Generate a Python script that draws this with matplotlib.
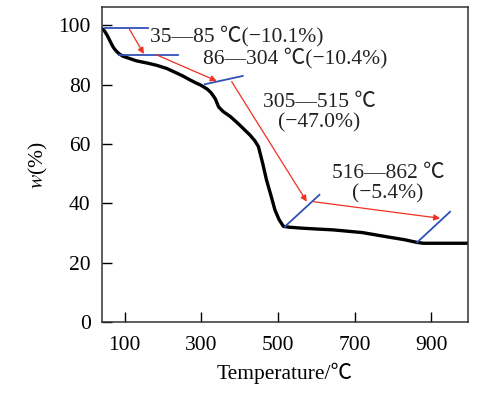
import matplotlib
matplotlib.use('Agg')
import matplotlib.pyplot as plt

# TG curve
temp = [40, 45, 50, 55, 60, 65, 70, 75, 80, 86, 96, 110, 130, 160, 183, 210, 230, 250,
        270, 285, 297, 305, 315, 325, 336, 345, 357, 375, 395, 415, 427, 440, 449,
        460, 470, 482, 492, 503, 514, 530, 560, 600, 644, 720, 783, 830, 862, 880,
        896, 950, 995]
mass = [98.9, 98.4, 97.5, 96.4, 95.1, 93.8, 92.6, 91.7, 91.0, 90.3, 89.5, 88.9, 88.0,
        87.2, 86.5, 85.4, 84.2, 83.0, 81.6, 80.6, 79.9, 79.3, 78.5, 77.3, 75.3, 72.5,
        70.9, 69.3, 67.0, 64.5, 63.0, 61.0, 59.1, 53.5, 47.9, 42.5, 37.8, 34.5, 32.3,
        32.0, 31.7, 31.4, 31.1, 30.2, 28.8, 27.8, 26.9, 26.6, 26.6, 26.6, 26.6]

# tangent lines (blue): (x0, x1), (y0, y1)
tan_x = [(49, 160), (86, 240), (309, 408), (518, 608), (863, 949)]
tan_y = [(99.0, 99.0), (90.0, 90.0), (80.1, 82.9), (32.2, 42.9), (26.9, 37.2)]

# arrows (red): start -> end
arr_start = [(112, 98.7), (183, 90.0), (379, 81.0), (592, 40.6)]
arr_end = [(150, 90.3), (340, 81.2), (575, 40.6), (923, 35.0)]

labels = ['35\u201485 \u2103(\u221210.1%)', '86\u2014304 \u2103(\u221210.4%)',
          '305\u2014515 \u2103\n(\u221247.0%)', '516\u2014862 \u2103\n(\u22125.4%)']
label_pos = [(165, 96.2), (304, 88.9), (607, 70.5), (787, 46.5)]
label_ha = ['left', 'left', 'center', 'center']

# Liberation Serif has no degree-Celsius sign, so let the CJK font supply it
plt.rcParams['font.family'] = ['Liberation Serif', 'Noto Sans CJK SC', 'DejaVu Serif']
plt.rcParams['mathtext.fontset'] = 'stix'

fig = plt.figure(figsize=(4.93, 3.99), dpi=100)
ax = fig.add_axes([0.2063, 0.1922, 0.7424, 0.7895])

ax.plot(temp, mass, color='black', lw=2.4, solid_joinstyle='round')

for xs, ys in zip(tan_x, tan_y):
    ax.plot(xs, ys, color='#3050b8', lw=1.3)

for s, e in zip(arr_start, arr_end):
    ax.annotate('', xy=e, xytext=s,
                arrowprops=dict(arrowstyle='-|>', color='#f03020', lw=0.9,
                                mutation_scale=9, shrinkA=0, shrinkB=0))

for txt, (x, y), ha in zip(labels, label_pos, label_ha):
    ax.text(x, y, txt, ha=ha, va='center', fontsize=15.5, color='#222222',
            linespacing=1.1)

ax.set_xlim(40, 995)
ax.set_ylim(0, 106)
ax.set_xticks([100, 300, 500, 700, 900])
ax.set_yticks([0, 20, 40, 60, 80, 100])
ax.tick_params(direction='in', length=7, width=1, labelsize=15.5, pad=8,
               top=False, right=False)
ax.tick_params(axis='x', pad=10)
for sp in ax.spines.values():
    sp.set_linewidth(1.1)
    sp.set_color('#333333')

ax.set_xlabel('Temperature/\u2103', fontsize=15.5, labelpad=5)
ax.set_ylabel('$\\mathit{w}$(%)', fontsize=15.5, labelpad=6)

fig.savefig('out.png', dpi=100)
